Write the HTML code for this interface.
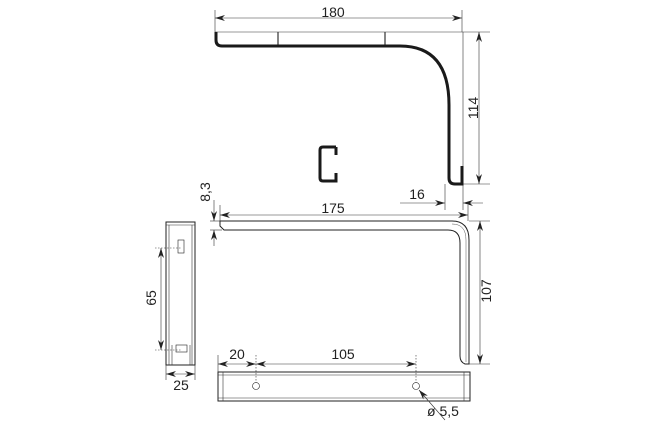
<!DOCTYPE html>
<html><head><style>html,body{margin:0;padding:0;background:#fff}svg{display:block}</style></head><body>
<svg width="650" height="430" viewBox="0 0 650 430" xmlns="http://www.w3.org/2000/svg" font-family="Liberation Sans, sans-serif" font-size="13" fill="#222">
<defs>
<marker id="a" viewBox="0 0 10 6" refX="10" refY="3" markerWidth="10" markerHeight="6" orient="auto-start-reverse" markerUnits="userSpaceOnUse"><path d="M0,0 L10,3 L0,6 L3,3 z" fill="#222"/></marker>
</defs>
<g stroke="#333" stroke-width="0.6" fill="none">
<!-- top view dims -->
<line x1="215" y1="10" x2="215" y2="32"/><line x1="462" y1="10" x2="462" y2="32"/>
<line x1="215" y1="18" x2="462" y2="18" marker-start="url(#a)" marker-end="url(#a)"/>
<line x1="215" y1="32" x2="490" y2="32"/>
<line x1="463" y1="32" x2="463" y2="166"/>
<line x1="278" y1="32" x2="278" y2="46" stroke-width="1.2"/><line x1="385" y1="32" x2="385" y2="46" stroke-width="1.2"/>
<line x1="463" y1="184" x2="490" y2="184"/>
<line x1="479" y1="32" x2="479" y2="184" marker-start="url(#a)" marker-end="url(#a)"/>
<line x1="445" y1="184" x2="445" y2="210"/><line x1="463" y1="184" x2="463" y2="210"/>
<line x1="400" y1="203" x2="445" y2="203" marker-end="url(#a)"/>
<line x1="483" y1="203" x2="463" y2="203" marker-end="url(#a)"/>
<!-- lower bracket dims -->
<line x1="220" y1="215" x2="468" y2="215" marker-start="url(#a)" marker-end="url(#a)"/>
<line x1="220" y1="205" x2="220" y2="221"/>
<line x1="468" y1="205" x2="468" y2="221"/>
<line x1="210" y1="221" x2="220" y2="221"/><line x1="210" y1="230" x2="222" y2="230"/>
<line x1="214" y1="200" x2="214" y2="221" marker-end="url(#a)"/>
<line x1="214" y1="246" x2="214" y2="230" marker-end="url(#a)"/>
<line x1="469" y1="221" x2="490" y2="221"/><line x1="469" y1="364" x2="490" y2="364"/>
<line x1="480" y1="221" x2="480" y2="364" marker-start="url(#a)" marker-end="url(#a)"/>
<!-- lower bracket -->
<path d="M220,221 L452,221 Q469,221 469,240 L469,364 L465,364 Q460,362 460,356 L460,243 Q460,230 448,230 L224,230 L220,226 Z" stroke="#222" stroke-width="1"/>
<path d="M452,224 Q466,224 466,240 L466,362" stroke="#555" stroke-width="0.5"/>
<!-- bottom plate -->
<rect x="218" y="372" width="252" height="29" stroke="#222" stroke-width="1"/>
<line x1="218" y1="375" x2="470" y2="375"/><line x1="218" y1="398" x2="470" y2="398"/>
<line x1="223" y1="372" x2="223" y2="401"/><line x1="464" y1="372" x2="464" y2="401"/>
<circle cx="256" cy="386" r="3.5" stroke="#222"/><circle cx="416" cy="386" r="3.5" stroke="#222"/>
<line x1="218" y1="355" x2="218" y2="372"/><line x1="256" y1="355" x2="256" y2="383" stroke-dasharray="1.5,1.5"/><line x1="416" y1="355" x2="416" y2="383" stroke-dasharray="1.5,1.5"/>
<line x1="218" y1="364" x2="256" y2="364" marker-start="url(#a)" marker-end="url(#a)"/>
<line x1="256" y1="364" x2="416" y2="364" marker-start="url(#a)" marker-end="url(#a)"/>
<line x1="445" y1="420" x2="419" y2="390" marker-end="url(#a)"/>
<!-- side view -->
<rect x="166" y="222" width="29" height="143" stroke="#222" stroke-width="1"/>
<line x1="169" y1="225" x2="169" y2="365"/><line x1="192" y1="225" x2="192" y2="365"/><line x1="166" y1="225" x2="195" y2="225"/>
<line x1="172" y1="345" x2="172" y2="365"/><line x1="190" y1="345" x2="190" y2="365"/>
<rect x="178" y="240" width="6" height="13" stroke="#222"/>
<rect x="176" y="345" width="11" height="7" stroke="#222"/>
<line x1="155" y1="248" x2="181" y2="248" stroke-dasharray="1.5,1.5"/><line x1="155" y1="350" x2="181" y2="350" stroke-dasharray="1.5,1.5"/>
<line x1="161" y1="248" x2="161" y2="350" marker-start="url(#a)" marker-end="url(#a)"/>
<line x1="166" y1="365" x2="166" y2="380"/><line x1="195" y1="365" x2="195" y2="380"/>
<line x1="166" y1="374" x2="195" y2="374" marker-start="url(#a)" marker-end="url(#a)"/>
</g>
<!-- thick top bracket -->
<path d="M216,32 L216,40 Q216,46 222,46 L400,46 Q449,46 449,105 L449,178 Q449,184 455,184 L462,184 L462,166" fill="none" stroke="#1a1a1a" stroke-width="3"/>
<path d="M336,147 L323,147 Q320,147 320,150 L320,178 Q320,181 323,181 L336,181 L336,173 M336,147 L336,155" fill="none" stroke="#1a1a1a" stroke-width="3"/>
<g font-size="14">
<text x="240" y="14" text-anchor="middle" transform="translate(0,0)"></text>
<text x="333" y="17" text-anchor="middle">180</text>
<text transform="translate(478,108) rotate(-90)" text-anchor="middle">114</text>
<text x="417" y="199" text-anchor="middle">16</text>
<text x="333" y="213" text-anchor="middle">175</text>
<text transform="translate(210,192) rotate(-90)" text-anchor="middle">8,3</text>
<text transform="translate(491,291) rotate(-90)" text-anchor="middle">107</text>
<text transform="translate(156,298) rotate(-90)" text-anchor="middle">65</text>
<text x="181" y="390" text-anchor="middle">25</text>
<text x="237" y="359" text-anchor="middle">20</text>
<text x="343" y="359" text-anchor="middle">105</text>
<text x="427" y="416">ø 5,5</text>
</g>
</svg>
</body></html>
